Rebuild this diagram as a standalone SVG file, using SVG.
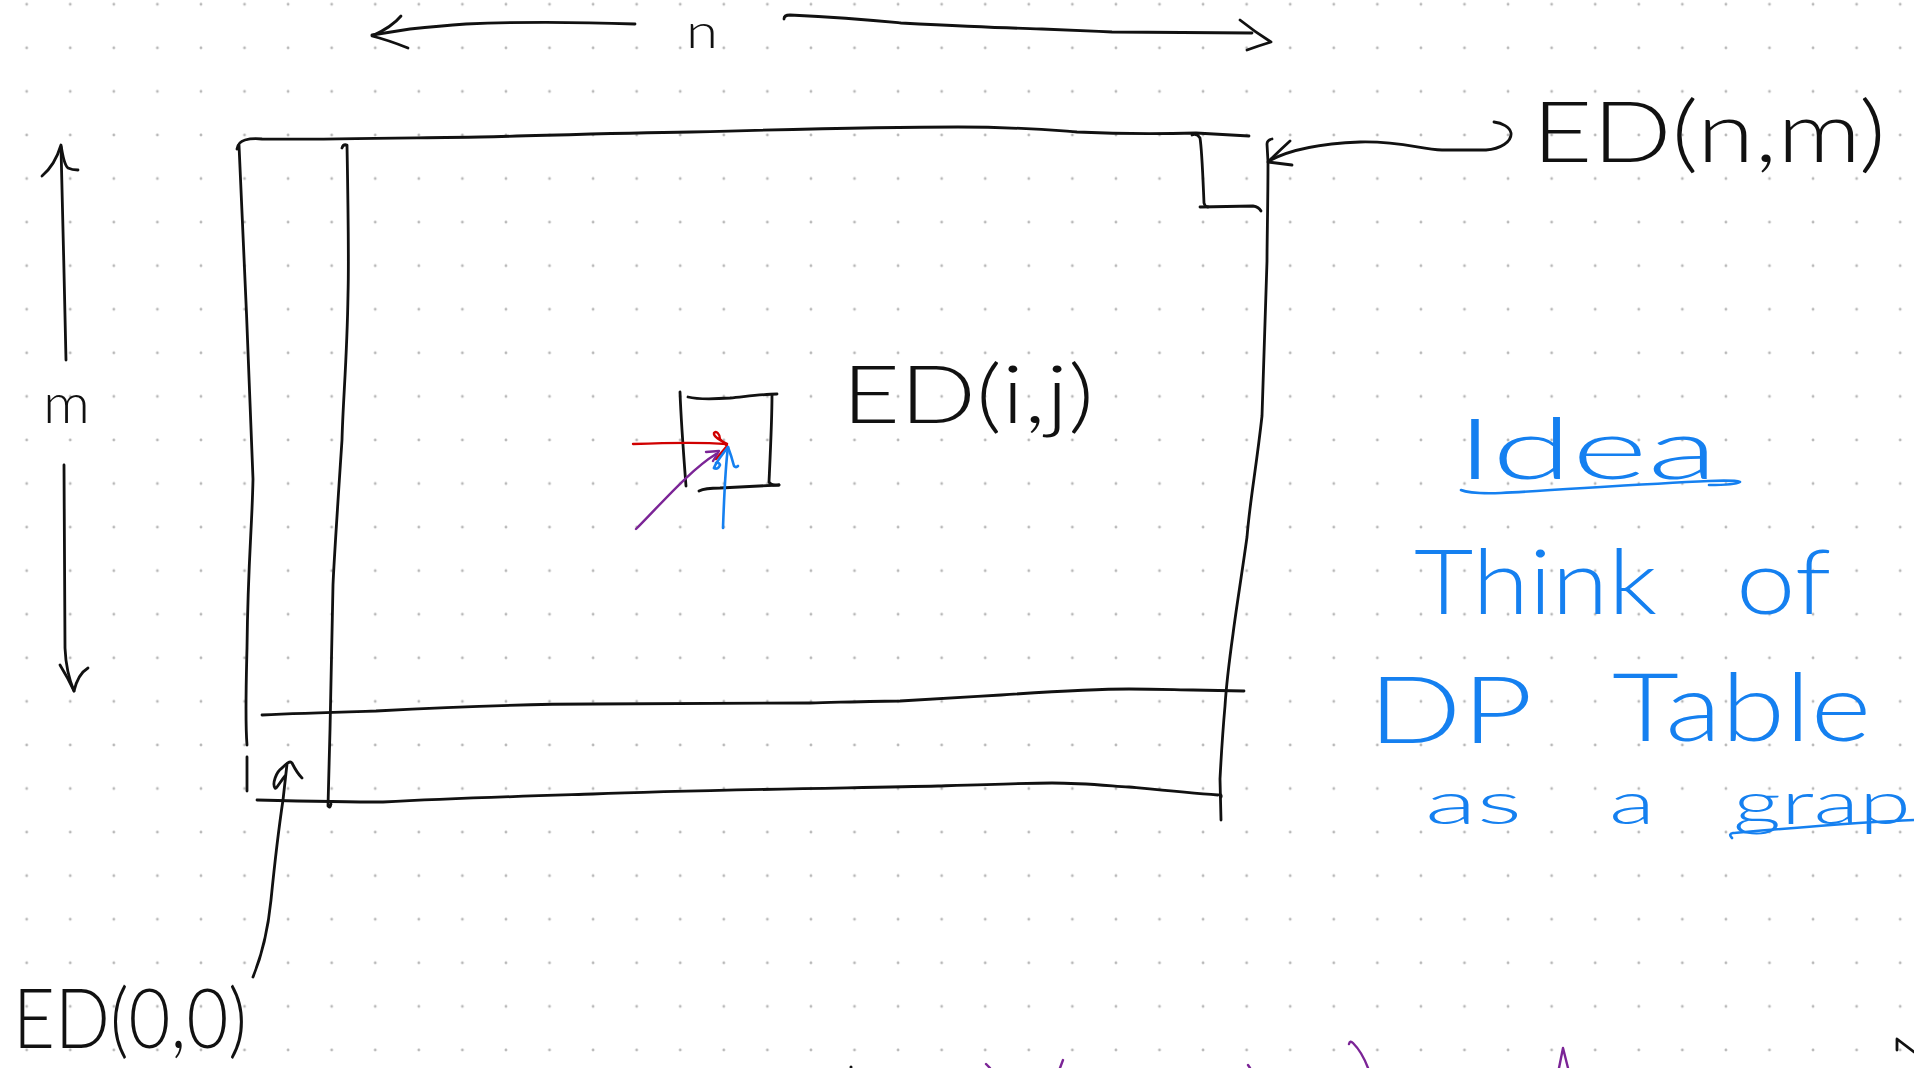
<svg xmlns="http://www.w3.org/2000/svg" width="1914" height="1068" viewBox="0 0 1914 1068">
<defs>
<pattern id="dots" patternUnits="userSpaceOnUse" x="4.9" y="-17.5" width="43.57" height="43.57">
<circle cx="21.785" cy="21.785" r="1.4" fill="#b8b8b8"/>
</pattern>
<style>
.ink{fill:none;stroke:#111;stroke-width:2.8;stroke-linecap:round;stroke-linejoin:round}
.blue{fill:none;stroke:#1580f0;stroke-width:2.6;stroke-linecap:round;stroke-linejoin:round}
.red{fill:none;stroke:#d00000;stroke-width:2.4;stroke-linecap:round;stroke-linejoin:round}
.purple{fill:none;stroke:#7b2496;stroke-width:2.4;stroke-linecap:round;stroke-linejoin:round}
.t{font-family:Lato,"Open Sans","Liberation Sans",sans-serif;font-weight:300;fill:#111}
.tb{font-family:Lato,"Open Sans","Liberation Sans",sans-serif;font-weight:300;fill:#1580f0}
</style>
</defs>
<rect width="1914" height="1068" fill="#fff"/>
<rect width="1914" height="1068" fill="url(#dots)"/>

<g id="table">
<path class="ink" d="M237,149 Q238,142 245,140 Q252,138 262,139 C300,140 400,138 480,137 C560,135 620,133 691,132 C800,129 900,127 958,127 C1020,127 1050,130 1077,132 C1120,134 1160,134 1196,133 L1249,136"/>
<path class="ink" d="M239,145 C243,220 250,400 253,479 C252,530 248,560 247,648 C246,690 245,720 247,745"/>
<path class="ink" d="M247,757 L247,791"/>
<path class="ink" d="M342,148 Q343,144 347,145 C348,200 349,260 348,295 C347,360 343,400 342,440 C338,500 334,560 333,585 C332,650 331,700 330,730 L328,806 Q330,809 331,804"/>
<path class="ink" d="M1272,139 Q1267,140 1267,144 L1268,162 C1268,200 1267,240 1267,261 C1265,330 1263,380 1262,416 C1256,470 1250,500 1247,537 C1241,580 1236,610 1233,634 C1228,670 1226,690 1225,706 C1222,740 1221,760 1220,779 L1221,820"/>
<path class="ink" d="M1192,135 Q1197,133 1200,138 C1202,150 1203,180 1204,203 Q1205,207 1208,207"/>
<path class="ink" d="M1200,207 L1253,206 Q1259,207 1261,211"/>
<path class="ink" d="M262,715 C300,713 340,712 376,711 C450,707 530,704 593,704 C700,703 780,703 810,703 C850,702 880,701 900,701 C950,698 970,697 1001,695 C1060,691 1100,689 1129,689 C1160,689 1180,690 1193,690 L1244,691"/>
<path class="ink" d="M257,800 C300,801 350,802 383,802 C460,798 530,796 593,794 C700,790 850,788 938,786 C1000,784 1030,783 1052,783 C1080,783 1100,785 1129,787 C1170,791 1190,793 1218,795 Q1222,794 1221,797"/>
</g>

<g id="cell-ij">
<path class="ink" d="M680,392 C681,420 684,460 686,486"/>
<path class="ink" d="M688,397 Q700,400 730,398 C750,396 765,394 777,394"/>
<path class="ink" d="M772,395 C772,420 770,460 769,482 Q771,486 779,485"/>
<path class="ink" d="M699,491 Q705,488 720,488 L779,485"/>
</g>

<g id="labels">
<text class="t" x="686" y="48" font-size="48" textLength="32" lengthAdjust="spacingAndGlyphs">n</text>
<text class="t" x="43" y="423" font-size="56" textLength="47" lengthAdjust="spacingAndGlyphs">m</text>
<text class="t" x="1532" y="162" font-size="84" textLength="354" lengthAdjust="spacingAndGlyphs">ED(n,m)</text>
<text class="t" x="842" y="423" font-size="80" textLength="252" lengthAdjust="spacingAndGlyphs">ED(i,j)</text>
<text class="t" x="13" y="1048" font-size="82" textLength="234" lengthAdjust="spacingAndGlyphs">ED(0,0)</text>
</g>

<g id="idea-note">
<text class="tb" x="1456" y="479" font-size="84" textLength="262" lengthAdjust="spacingAndGlyphs">Idea</text>
<path class="blue" d="M1461,490 Q1470,494 1501,493 C1560,490 1640,484 1709,481 Q1735,480 1740,482 Q1735,485 1709,485"/>
<text class="tb" x="1414" y="614" font-size="90" textLength="243" lengthAdjust="spacingAndGlyphs">Think</text>
<text class="tb" x="1736" y="614" font-size="90" textLength="95" lengthAdjust="spacingAndGlyphs">of</text>
<text class="tb" x="1368" y="743" font-size="92" textLength="165" lengthAdjust="spacingAndGlyphs">DP</text>
<text class="tb" x="1612" y="741" font-size="94" textLength="259" lengthAdjust="spacingAndGlyphs">Table</text>
<text class="tb" x="1425" y="824" font-size="60" textLength="97" lengthAdjust="spacingAndGlyphs">as</text>
<text class="tb" x="1609" y="824" font-size="60" textLength="46" lengthAdjust="spacingAndGlyphs">a</text>
<text class="tb" x="1733" y="824" font-size="60" textLength="178" lengthAdjust="spacingAndGlyphs">grap</text>
<path class="blue" d="M1732,838 Q1728,834 1733,833 C1780,829 1860,822 1914,820"/>
</g>

<g id="connectors">
<path class="ink" d="M635,24 C580,22 510,22 466,24 C440,26 420,28 410,29 L372,35"/>
<path class="ink" d="M401,16 Q392,27 372,36 Q388,40 408,48"/>
<path class="ink" d="M784,19 Q784,15 790,15 C850,18 880,21 901,23 C960,26 1000,28 1042,29 C1070,30 1090,31 1112,32 L1252,33"/>
<path class="ink" d="M1240,20 Q1255,32 1271,42 Q1258,46 1247,50"/>
<path class="ink" d="M66,360 C65,300 62,200 61,147"/>
<path class="ink" d="M42,176 Q55,165 61,145 Q64,165 68,168 Q72,170 78,170"/>
<path class="ink" d="M64,465 C64,550 65,620 65,648 Q66,672 74,691"/>
<path class="ink" d="M60,665 Q68,678 74,691 Q78,674 88,668"/>
<path class="ink" d="M1269,161 C1285,152 1310,144 1360,142 C1400,141 1420,149 1442,150 L1486,150 C1500,149 1512,142 1511,133 C1510,127 1502,123 1494,122"/>
<path class="ink" d="M1290,141 Q1280,150 1268,162 L1292,165"/>
<path class="ink" d="M253,977 C262,955 268,930 271,900 C275,860 280,820 283,800 L287,764"/>
<path class="ink" d="M285,776 C280,782 276,790 275,788 C272,784 276,772 282,768 C286,764 290,760 292,763 C295,769 298,774 302,778"/>
<path class="red" d="M633,444 C660,443 700,442 727,444"/>
<path class="red" d="M727,444 C722,441 713,437 714,433 C716,430 720,434 720,439 L727,446 L716,459"/>
<path class="purple" d="M636,529 C660,505 690,470 716,454"/>
<path class="purple" d="M706,452 L719,451 L713,461"/>
<path class="blue" d="M723,528 C724,500 725,470 728,447"/>
<path class="blue" d="M714,468 C716,462 722,455 728,447 C731,455 733,462 734,466 Q736,468 738,466"/>
<path class="blue" d="M714,468 Q718,470 720,465 Q719,462 716,463"/>
</g>

<g id="cut-off-marks">
<path class="purple" d="M986,1064 L990,1068"/>
<path class="purple" d="M1063,1060 L1060,1068"/>
<path class="purple" d="M1248,1065 L1250,1068"/>
<path class="purple" d="M1349,1044 Q1350,1040 1353,1043 C1360,1050 1365,1060 1368,1068"/>
<path class="purple" d="M1559,1068 L1563,1048 L1568,1068"/>
<circle cx="851" cy="1067" r="1.5" fill="#111"/>
<path class="ink" d="M1897,1050 L1897,1039 L1914,1052"/>
</g>
</svg>
